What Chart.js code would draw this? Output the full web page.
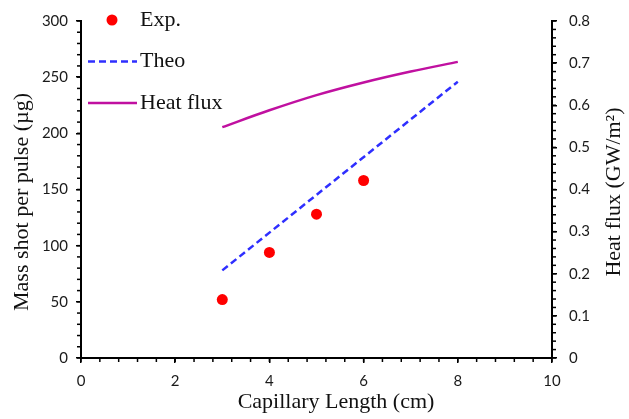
<!DOCTYPE html>
<html>
<head>
<meta charset="utf-8">
<script src="https://cdn.jsdelivr.net/npm/chart.js@4/dist/chart.umd.min.js"></script>
<style>
html,body{margin:0;padding:0;background:#fff;}
#wrap{width:629px;height:419px;}
</style>
</head>
<body>
<div id="wrap"><canvas id="c" width="629" height="419"></canvas></div>
<script>
// ---- data ----
const expX = [3, 4, 5, 6];
const expY = [52, 94, 128, 158];
const theoX = [3, 8];
const theoY = [78, 246];
const fluxX = [3, 4, 5, 6, 7, 8];
const fluxY = [0.548, 0.588, 0.624, 0.654, 0.680, 0.703];
const xTicks = [0, 2, 4, 6, 8, 10];
const yTicks = [0, 50, 100, 150, 200, 250, 300];
const y1Ticks = [0, 0.1, 0.2, 0.3, 0.4, 0.5, 0.6, 0.7, 0.8];
const seriesNames = ['Exp.', 'Theo', 'Heat flux'];
const xTitle = 'Capillary Length (cm)';
const yTitle = 'Mass shot per pulse (µg)';
const y1Title = 'Heat flux (GW/m²)';

const RED = '#ff0000', BLUE = '#2f2fff', MAG = '#c010a0';
const toPts = (xs, ys) => xs.map((x, i) => ({x: x, y: ys[i]}));

const minorPlugin = {
  id: 'minor',
  afterDraw(chart) {
    const ctx = chart.ctx;
    ctx.save();
    ctx.strokeStyle = '#000';
    ctx.lineWidth = 1.5;
    const defs = [['x', 0.4, 'bottom'], ['y', 10, 'left'], ['y1', 0.02, 'right']];
    defs.forEach(([id, step, pos]) => {
      const s = chart.scales[id];
      const n = Math.round((s.max - s.min) / step);
      for (let i = 0; i <= n; i++) {
        const v = s.min + i * step;
        const p = s.getPixelForValue(v);
        ctx.beginPath();
        if (pos === 'bottom') { ctx.moveTo(p, s.top); ctx.lineTo(p, s.top + 4); }
        else if (pos === 'left') { ctx.moveTo(s.right, p); ctx.lineTo(s.right - 4, p); }
        else { ctx.moveTo(s.left, p); ctx.lineTo(s.left + 4, p); }
        ctx.stroke();
      }
    });
    // axis titles
    ctx.fillStyle = '#111';
    ctx.font = '22px "Liberation Serif", "Times New Roman", serif';
    ctx.textAlign = 'center';
    ctx.textBaseline = 'middle';
    ctx.fillText(xTitle, 336, 402);
    ctx.save();
    ctx.translate(22, 202);
    ctx.rotate(-Math.PI / 2);
    ctx.fillText(yTitle, 0, 0);
    ctx.restore();
    ctx.save();
    ctx.translate(614, 192);
    ctx.rotate(-Math.PI / 2);
    ctx.fillText(y1Title, 0, 0);
    ctx.restore();
    // legend
    ctx.textAlign = 'left';
    ctx.font = '22px "Liberation Serif", "Times New Roman", serif';
    ctx.fillStyle = RED;
    ctx.beginPath(); ctx.arc(112, 20, 5.5, 0, Math.PI * 2); ctx.fill();
    ctx.fillStyle = '#111';
    ctx.fillText(seriesNames[0], 140, 20);
    ctx.strokeStyle = BLUE; ctx.lineWidth = 2.5; ctx.setLineDash([7, 4]);
    ctx.beginPath(); ctx.moveTo(88, 61.5); ctx.lineTo(137, 61.5); ctx.stroke();
    ctx.setLineDash([]);
    ctx.fillText(seriesNames[1], 140, 61.5);
    ctx.strokeStyle = MAG; ctx.lineWidth = 2.5;
    ctx.beginPath(); ctx.moveTo(88, 103); ctx.lineTo(137, 103); ctx.stroke();
    ctx.fillText(seriesNames[2], 140, 103);
    ctx.restore();
  }
};

const tickFont = {family: 'Lato, "Open Sans", sans-serif', size: 15};
const gridOpt = {display: true, drawOnChartArea: false, drawTicks: true, tickLength: 5, color: '#000', lineWidth: 1.5};
const borderOpt = {display: true, color: '#000', width: 2};

new Chart(document.getElementById('c'), {
  type: 'scatter',
  data: {
    datasets: [
      {label: seriesNames[0], data: toPts(expX, expY), yAxisID: 'y', pointRadius: 5.5, pointHoverRadius: 5.5,
       backgroundColor: RED, borderColor: RED, borderWidth: 0, showLine: false},
      {label: seriesNames[1], data: toPts(theoX, theoY), yAxisID: 'y', showLine: true, pointRadius: 0,
       borderColor: BLUE, borderWidth: 2.5, borderDash: [7, 4], fill: false},
      {label: seriesNames[2], data: toPts(fluxX, fluxY), yAxisID: 'y1', showLine: true, pointRadius: 0,
       borderColor: MAG, borderWidth: 2.5, tension: 0.3, fill: false}
    ]
  },
  options: {
    responsive: false,
    animation: false,
    events: [],
    layout: {padding: {top: 20, left: 0, right: 0, bottom: 0}},
    plugins: {legend: {display: false}, tooltip: {enabled: false}},
    scales: {
      x: {
        type: 'linear', position: 'bottom', min: 0, max: 10,
        afterBuildTicks: s => { s.ticks = xTicks.map(v => ({value: v})); },
        afterFit: s => { s.height = 61; },
        ticks: {font: tickFont, color: '#1a1a1a', padding: 9, maxRotation: 0},
        grid: gridOpt, border: borderOpt
      },
      y: {
        type: 'linear', position: 'left', min: 0, max: 300,
        afterBuildTicks: s => { s.ticks = yTicks.map(v => ({value: v})); },
        afterFit: s => { s.width = 81; },
        ticks: {font: tickFont, color: '#1a1a1a', padding: 8},
        grid: gridOpt, border: borderOpt
      },
      y1: {
        type: 'linear', position: 'right', min: 0, max: 0.8,
        afterBuildTicks: s => { s.ticks = y1Ticks.map(v => ({value: v})); },
        afterFit: s => { s.width = 77; },
        ticks: {font: tickFont, color: '#1a1a1a', padding: 12, callback: v => String(v)},
        grid: gridOpt, border: borderOpt
      }
    }
  },
  plugins: [minorPlugin]
});
</script>
</body>
</html>
